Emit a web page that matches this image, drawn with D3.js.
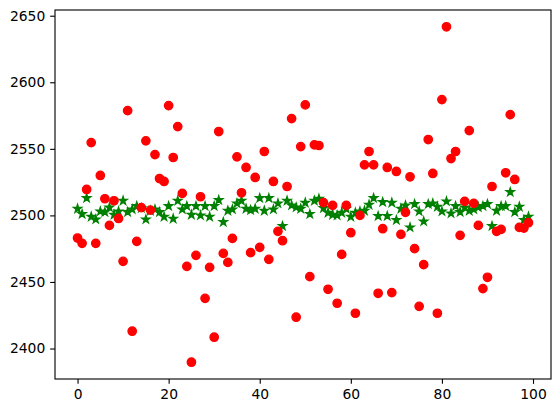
<!DOCTYPE html>
<html>
<head>
<meta charset="utf-8">
<script src="https://cdn.jsdelivr.net/npm/d3@7"></script>
<style>
  body { margin: 0; background: #fff; }
  text { font-family: "DejaVu Sans", sans-serif; }
</style>
</head>
<body>
<script>
// red circles, one per index 0..99
const redValues = [
  2483, 2479, 2519.5, 2554.7, 2479, 2530, 2512.5, 2492.5, 2511, 2497.7,
  2465.5, 2578.7, 2413, 2480.5, 2505.8, 2556, 2504, 2545.7, 2527.7, 2525.5,
  2582.5, 2543.5, 2566.7, 2516.5, 2461.7, 2389.7, 2470, 2514, 2437.7, 2461,
  2408.5, 2563, 2471.5, 2464.7, 2482.7, 2544, 2517, 2536, 2472, 2528.5,
  2476, 2548, 2467, 2525.5, 2488, 2481, 2521.7, 2572.7, 2423.5, 2551.7,
  2583, 2454, 2553, 2552.5, 2509.6, 2444.5, 2507.5, 2434, 2470.7, 2507.5,
  2487, 2426.5, 2500, 2538, 2548, 2538, 2441.5, 2490, 2536, 2442,
  2533, 2485.7, 2502.3, 2529, 2475, 2431.7, 2463, 2557, 2531.5, 2426.5,
  2587, 2641.7, 2542.7, 2548, 2485, 2510.5, 2563.7, 2509, 2492.5, 2445,
  2453.5, 2521.7, 2488, 2489.5, 2532, 2575.7, 2527, 2491, 2490.5, 2494.5
];

// green stars, one per index 0..99
const greenValues = [
  2505, 2501, 2513, 2499, 2497, 2503, 2502.5, 2506, 2500.5, 2503,
  2511, 2502.5, 2504.5, 2507, 2505.5, 2497, 2503.5, 2504.5, 2502.5, 2499,
  2507, 2497.5, 2511, 2504.5, 2507, 2500.5, 2507, 2500, 2507, 2499,
  2507, 2511.5, 2495, 2503.5, 2504.5, 2509, 2511, 2505, 2504, 2505,
  2513, 2503.5, 2513, 2504.5, 2509, 2492, 2511, 2507.5, 2506, 2505,
  2509.5, 2501, 2511, 2512.5, 2505.5, 2502, 2500.5, 2500, 2502, 2505,
  2499, 2502, 2503, 2503.5, 2508, 2513, 2499.5, 2510, 2499.5, 2509.5,
  2496.5, 2505, 2507.5, 2491, 2508.5, 2503, 2495.5, 2508.5, 2509, 2506.5,
  2503, 2510.5, 2501.5, 2507, 2502.5, 2506, 2503.5, 2504.5, 2506, 2507,
  2508.5, 2492, 2503.5, 2507, 2507, 2517.5, 2502.5, 2506.5, 2496.5, 2499
];

const xTicks = [0, 20, 40, 60, 80, 100];
const yTicks = [2400, 2450, 2500, 2550, 2600, 2650];

const width = 560;
const height = 413;
const marginTop = 10;
const marginRight = 9;
const marginBottom = 34;
const marginLeft = 55;

const dpi = 100 / 72;  // points -> px
const fontSize = 10 * dpi;
const tickLen = 3.5 * dpi;
const tickPad = 3.5 * dpi;

const redPts = redValues.map((v, i) => [i, v]);
const greenPts = greenValues.map((v, i) => [i, v]);

// matplotlib style 5% margins around the data
const n = redValues.length - 1;
const yAll = redValues.concat(greenValues);
const [yMin, yMax] = d3.extent(yAll);
const yPad = (yMax - yMin) * 0.05;

const x = d3.scaleLinear()
    .domain([-n * 0.05, n * 1.05])
    .range([marginLeft, width - marginRight]);

const y = d3.scaleLinear()
    .domain([yMin - yPad, yMax + yPad])
    .range([height - marginBottom, marginTop]);

const svg = d3.select('body').append('svg')
    .attr('width', width)
    .attr('height', height);

svg.append('rect')
    .attr('width', width)
    .attr('height', height)
    .attr('fill', '#fff');

const plot = svg.append('g');

// green stars go down first, red circles sit on top of them
const star = d3.symbol(d3.symbolStar, (4.17 * 4.17) / 0.8908130915292852);

plot.selectAll('.star')
    .data(greenPts)
    .enter().append('path')
    .attr('class', 'star')
    .attr('d', star)
    .attr('transform', d => `translate(${x(d[0])},${y(d[1])})`)
    .attr('fill', '#008000')
    .attr('stroke', '#008000')
    .attr('stroke-width', dpi)
    .attr('stroke-linejoin', 'miter');

plot.selectAll('.dot')
    .data(redPts)
    .enter().append('circle')
    .attr('class', 'dot')
    .attr('cx', d => x(d[0]))
    .attr('cy', d => y(d[1]))
    .attr('r', 3 * dpi)
    .attr('fill', '#ff0000')
    .attr('stroke', '#ff0000')
    .attr('stroke-width', dpi);

// axes
svg.append('g')
    .attr('transform', `translate(0,${height - marginBottom})`)
    .call(d3.axisBottom(x).tickValues(xTicks).tickFormat(d3.format('d'))
        .tickSizeInner(tickLen).tickSizeOuter(0).tickPadding(tickPad))
    .call(g => g.select('.domain').remove())
    .call(g => g.selectAll('.tick line').attr('stroke', '#000').attr('stroke-width', 0.8 * dpi))
    .call(g => g.selectAll('.tick text')
        .attr('font-size', fontSize)
        .attr('font-family', '"DejaVu Sans", sans-serif')
        .attr('fill', '#000'));

svg.append('g')
    .attr('transform', `translate(${marginLeft},0)`)
    .call(d3.axisLeft(y).tickValues(yTicks).tickFormat(d3.format('d'))
        .tickSizeInner(tickLen).tickSizeOuter(0).tickPadding(tickPad))
    .call(g => g.select('.domain').remove())
    .call(g => g.selectAll('.tick line').attr('stroke', '#000').attr('stroke-width', 0.8 * dpi))
    .call(g => g.selectAll('.tick text')
        .attr('font-size', fontSize)
        .attr('font-family', '"DejaVu Sans", sans-serif')
        .attr('fill', '#000'));

// frame
svg.append('rect')
    .attr('x', marginLeft)
    .attr('y', marginTop)
    .attr('width', width - marginLeft - marginRight)
    .attr('height', height - marginTop - marginBottom)
    .attr('fill', 'none')
    .attr('stroke', '#000')
    .attr('stroke-width', 0.8 * dpi);
</script>
</body>
</html>
